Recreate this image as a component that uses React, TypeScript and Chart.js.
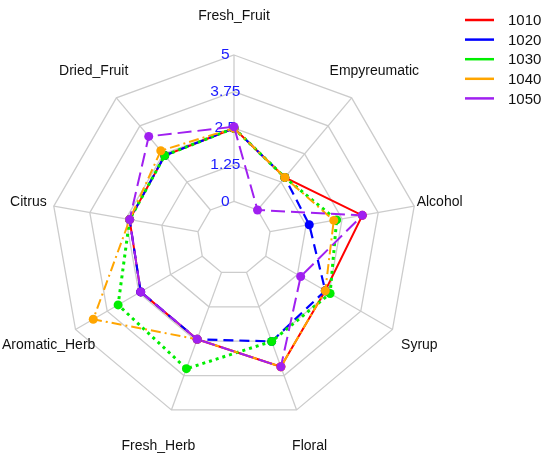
import React, { useEffect, useRef } from "react";
import { Chart, registerables } from "chart.js";

Chart.register(...registerables);

const categories = [
  "Fresh_Fruit",
  "Empyreumatic",
  "Alcohol",
  "Syrup",
  "Floral",
  "Fresh_Herb",
  "Aromatic_Herb",
  "Citrus",
  "Dried_Fruit",
];

const seriesNames = ["1010", "1020", "1030", "1040", "1050"];
const s1010 = [2.5, 1.45, 3.2, 2.35, 3.43, 2.43, 2.43, 2.37, 2.43];
const s1020 = [2.5, 1.45, 1.36, 2.35, 2.51, 2.43, 2.43, 2.37, 2.43];
const s1030 = [2.5, 1.45, 2.31, 2.54, 2.51, 3.5, 3.32, 2.37, 2.43];
const s1040 = [2.5, 1.45, 2.21, 2.35, 3.43, 2.43, 4.3, 2.37, 2.64];
const s1050 = [2.55, 0, 3.2, 1.38, 3.43, 2.43, 2.43, 2.37, 3.28];

const axisMin = -1.25;
const axisMax = 5;
const axisStep = 1.25;

const seriesColors = ["#FF0000", "#0000FF", "#00EE00", "#FFA500", "#A020F0"];
const seriesDashes: number[][] = [[], [10, 6], [3, 4], [10, 4, 2, 4], [14, 6]];
const seriesWidths = [2, 2.2, 3, 2, 2];

const GRID = "#cccccc";
const FONT = "'Liberation Sans', Arial, sans-serif";

const spokesPlugin = {
  id: "spokes",
  beforeDraw(chart: any) {
    const sc = chart.scales.r;
    if (!sc) return;
    const ctx = chart.ctx;
    const n = chart.data.labels.length;
    const r0 = sc.getDistanceFromCenterForValue(0);
    const r1 = sc.getDistanceFromCenterForValue(sc.max);
    ctx.save();
    ctx.strokeStyle = GRID;
    ctx.lineWidth = 1.3;
    for (let i = 0; i < n; i++) {
      const p0 = sc.getPointPosition(i, r0);
      const p1 = sc.getPointPosition(i, r1);
      ctx.beginPath();
      ctx.moveTo(p0.x, p0.y);
      ctx.lineTo(p1.x, p1.y);
      ctx.stroke();
    }
    ctx.restore();
  },
};

const labelsPlugin = {
  id: "axisLabels",
  afterDraw(chart: any) {
    const sc = chart.scales.r;
    if (!sc) return;
    const ctx = chart.ctx;
    ctx.save();
    ctx.font = `14px ${FONT}`;
    ctx.fillStyle = "#111";
    ctx.textAlign = "center";
    ctx.textBaseline = "middle";
    chart.data.labels.forEach((lab: string, i: number) => {
      const a = sc.getIndexAngle(i);
      const d = sc.drawingArea + 23 + 16 * Math.abs(Math.cos(a));
      const p = sc.getPointPosition(i, d);
      ctx.fillText(lab, p.x, p.y);
    });
    ctx.restore();
  },
};

const legendPlugin = {
  id: "lineLegend",
  afterDraw(chart: any) {
    const ctx = chart.ctx;
    const x0 = chart.width - 85;
    const y0 = 20;
    const rowH = 19.6;
    ctx.save();
    ctx.font = `15px ${FONT}`;
    ctx.textAlign = "left";
    ctx.textBaseline = "middle";
    chart.data.datasets.forEach((ds: any, i: number) => {
      const y = y0 + i * rowH;
      ctx.strokeStyle = ds.borderColor;
      ctx.lineWidth = 2.5;
      ctx.setLineDash([]);
      ctx.beginPath();
      ctx.moveTo(x0, y);
      ctx.lineTo(x0 + 29, y);
      ctx.stroke();
      ctx.fillStyle = "#111";
      ctx.fillText(ds.label, x0 + 43, y + 1);
    });
    ctx.restore();
  },
};

export default function App() {
  const ref = useRef<HTMLCanvasElement>(null);

  useEffect(() => {
    document.body.style.margin = "0";
    const allSeries = [s1010, s1020, s1030, s1040, s1050];
    const chart = new Chart(ref.current as HTMLCanvasElement, {
      type: "radar",
      data: {
        labels: categories,
        datasets: seriesNames.map((name, i) => ({
          label: name,
          data: allSeries[i],
          borderColor: seriesColors[i],
          backgroundColor: seriesColors[i],
          pointBackgroundColor: seriesColors[i],
          pointBorderWidth: 0,
          pointRadius: 4.5,
          borderWidth: seriesWidths[i],
          borderDash: seriesDashes[i],
          fill: false,
          order: seriesNames.length - i,
        })),
      },
      options: {
        animation: false,
        responsive: true,
        maintainAspectRatio: false,
        layout: { padding: { left: 43, right: 124, top: 47, bottom: 33 } },
        plugins: {
          legend: { display: false },
          tooltip: { enabled: false },
        },
        elements: { line: { tension: 0 } },
        scales: {
          r: {
            min: axisMin,
            max: axisMax,
            beginAtZero: false,
            angleLines: { display: false },
            grid: { color: GRID, lineWidth: 1.3, circular: false },
            pointLabels: { display: false },
            ticks: {
              stepSize: axisStep,
              showLabelBackdrop: false,
              backdropPadding: 0,
              color: "#1a1aff",
              font: { size: 15.5, family: FONT },
              callback: (v: any) => (v < 0 ? "" : String(v) + "    "),
            },
          },
        },
      },
      plugins: [spokesPlugin, labelsPlugin, legendPlugin],
    });
    return () => chart.destroy();
  }, []);

  return (
    <div style={{ width: 550, height: 463, position: "relative" }}>
      <canvas ref={ref} />
    </div>
  );
}
